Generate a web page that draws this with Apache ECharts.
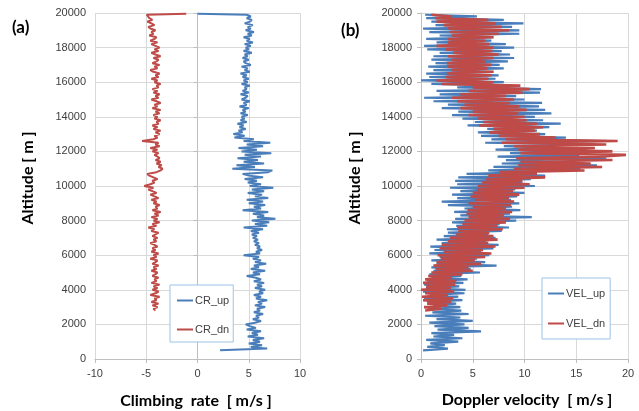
<!DOCTYPE html>
<html><head><meta charset="utf-8">
<script src="https://cdn.jsdelivr.net/npm/echarts@6/dist/echarts.min.js"></script>
<style>html,body{margin:0;padding:0;background:#fff}#c{width:639px;height:411px}</style>
</head><body><div id="c"></div>
<script>
// ---- sampling altitudes (m) ----
function range(a, b, s) { var r = []; for (var v = a; v <= b + 1e-9; v += s) r.push(v); return r; }
const altUp = range(500, 19900, 100);     // ascent samples
const altDn = range(2800, 19900, 100);    // descent samples
const topUpAlt = 19950, topUpVal = 0;     // CR_up last point
const topDnAlt = 19950, topDnVal = -1.1;  // CR_dn last point

// ---- (a) Climbing rate [m/s] ----
const crUp = [
 2.2,6.8,5.2,6.3,5.0,6.1,5.4,6.5,4.9,5.9,5.3,6.2,4.8,5.7,5.1,4.7,
 5.6,6.2,5.4,6.0,5.7,6.4,5.5,6.1,5.8,6.6,5.6,6.3,5.9,6.8,5.7,6.2,5.5,6.4,6.0,6.6,5.6,6.3,5.8,6.5,5.5,6.2,
 5.7,4.8,6.1,5.4,6.6,5.2,6.0,5.5,6.7,5.6,
 6.2,5.4,6.0,4.5,6.1,5.7,
 6.3,5.8,6.1,5.6,6.0,5.5,5.9,5.4,5.8,5.3,
 6.0,5.2,6.4,4.5,6.8,5.6,7.0,5.3,7.6,5.8,6.5,5.4,6.9,4.4,6.2,5.5,
 6.6,5.0,6.4,4.8,6.9,5.6,6.3,4.9,6.5,5.3,7.4,5.1,
 6.2,4.9,5.8,4.6,6.4,5.0,4.4,6.9,7.3,3.4,5.6,3.8,6.5,4.5,5.9,3.9,6.2,4.6,7.2,4.3,5.8,4.0,6.4,4.8,7.1,4.5,5.5,3.6,
 4.6,3.5,4.4,4.0,4.7,4.1,4.5,3.9,4.8,4.2,4.6,4.3,
 4.9,4.2,4.7,4.4,5.0,4.1,4.8,4.5,5.1,4.3,4.7,4.9,4.2,5.0,4.4,4.8,4.6,5.1,4.3,4.9,
 4.5,5.0,4.4,4.8,4.2,5.1,4.6,4.9,4.3,5.2,4.7,4.5,5.0,4.4,4.9,4.6,5.3,4.5,5.0,4.7,
 5.2,4.6,5.4,4.8,5.1,4.5,5.3,4.9,5.5,4.7,5.2,4.9,5.4,4.6,5.1,5.3,4.8,5.2,4.8
];
const crDn = [
 -4.1,-4.3,-3.9,-4.4,-3.8,-4.5,-4.0,-4.2,-3.7,-4.6,
 -4.1,-3.8,-4.4,-3.9,-4.3,-3.7,-4.5,-4.0,-4.2,-3.8,
 -4.4,-4.1,-3.9,-4.5,-4.0,-4.3,-3.8,-4.4,-4.1,-3.9,
 -4.6,-4.0,-4.3,-3.8,-4.5,-4.1,-4.4,-3.9,-4.2,-4.6,
 -4.0,-4.3,-3.9,-4.4,-4.1,-3.8,-4.5,-4.2,
 -4.8,-4.0,-4.4,-3.7,-4.3,-3.9,-4.5,-3.8,-4.2,-3.6,-4.4,-3.9,-4.1,-3.7,-4.3,-4.0,-4.5,-3.8,-4.2,-4.6,-4.0,-4.4,-4.8,-4.3,-5.2,
 -4.6,-4.2,-4.4,-3.9,-4.3,-4.7,-4.9,-4.0,-3.6,-3.4,-3.8,-3.5,-4.0,-3.6,-4.1,-3.7,-3.9,-4.2,-3.8,-4.4,-3.9,-4.6,-3.7,-4.1,-3.8,
 -5.4,-4.3,
 -3.9,-4.2,-3.7,-4.1,-3.6,-4.3,-3.9,-4.4,-3.8,-4.0,-3.6,-4.2,-3.9,
 -4.3,-3.7,-4.1,-3.6,-4.4,-3.9,-4.2,-3.6,-4.0,-4.5,-3.8,-4.1,-3.7,-4.3,-3.9,-4.4,-3.8,-4.0,-3.6,-4.2,
 -3.9,-4.5,-3.8,-4.1,-3.7,-4.3,-4.6,-3.9,-4.2,-3.7,-4.4,-4.0,-3.8,-4.3,-3.6,-4.1,-4.5,-3.8,-4.2,-3.7,
 -4.1,-4.5,-3.9,-4.6,-4.2,-4.0,-4.7,-4.3,-4.5,-4.1,-4.6,-4.8,-4.2,-4.5,-4.9,-4.4,-4.7,-4.8,-4.95
];

// ---- (b) Doppler velocity [m/s] ----
const velUp = [
 0.2,2.6,0.6,2.3,0.9,
 3.6,0.5,4.0,1.2,3.2,  1.0,5.8,1.6,4.6,1.3,  4.2,0.8,5.0,1.5,3.8,  0.4,4.6,1.1,3.9,0.7,
 3.8,1.2,3.4,0.6,4.0,  0.3,3.6,0.9,4.2,0.2,  4.3,0.5,3.7,0.3,4.1,  0.6,4.5,1.0,3.9,0.8,
 5.7,1.2,4.8,1.0,7.3,  1.5,6.2,1.0,5.4,1.8,  6.6,0.8,5.8,1.3,7.0,  0.9,7.5,2.0,6.3,1.5,
 7.2,2.2,6.5,2.6,7.8,  2.5,8.5,3.4,7.6,3.0,  9.2,3.3,10.7,3.8,8.6, 3.2,9.6,4.2,8.8,2.6,
 9.5,2.0,8.7,3.5,9.3,  3.0,10.0,3.8,9.1,2.8, 11.0,3.5,9.8,3.3,10.6, 3.6,12.0,4.4,11.2,6.5,
 15.4,7.0,17.0,7.8,14.6, 8.2,17.9,7.4,15.3,8.6, 16.0,7.2,13.5,8.0,15.2, 6.2,18.0,6.8,14.0,5.8,
 12.0,5.5,11.2,6.4,12.4, 4.5,13.5,5.2,11.8,4.0, 11.0,3.0,12.6,3.6,12.0, 2.0,11.4,2.6,11.7,1.2,
 10.0,0.3,9.2,1.8,11.5, 1.5,11.6,3.5,8.8,1.0, 8.0,0.0,7.2,0.8,7.5, 0.5,7.0,1.2,8.0,0.7,
 7.6,1.4,8.4,1.0,9.0,  1.2,8.6,1.8,7.8,0.6,  9.0,0.3,8.2,1.5,6.8,  0.5,7.0,1.8,9.5,0.8,
 9.5,0.2,8.8,1.4,9.9,  1.0,8.0,0.5,5.4,0.4
];
const velDn = [
 0.4,2.0,
 0.3,2.5,0.6,2.9,0.2,  3.1,0.1,2.6,0.4,3.2,  0.0,2.9,0.5,3.3,0.2,  3.4,0.4,3.0,0.7,4.0,
 1.0,5.0,1.4,4.6,1.2,  5.8,1.5,5.2,1.9,6.2,  1.6,6.8,2.2,6.0,1.8,  7.2,2.0,6.5,2.6,7.4,
 2.8,7.0,3.4,6.6,3.6,  7.9,3.5,7.4,4.0,8.2,  4.2,8.6,4.6,8.0,4.4,  8.8,4.5,8.2,5.0,8.7,
 4.6,9.0,5.2,8.5,4.8,  9.5,5.0,8.9,5.4,10.0, 5.5,10.5,5.9,9.8,6.3, 12.0,6.5,11.2,7.6,15.8,
 9.0,17.5,9.4,16.4,9.6, 18.5,9.2,17.2,19.8,9.6, 18.5,9.4,16.8,9.0,17.9, 7.8,19.0,8.2,13.0,7.5,
 11.5,6.6,11.0,7.0,11.8, 5.6,11.2,6.0,10.2,5.5, 10.0,4.6,9.4,5.0,10.2, 3.8,9.5,4.2,8.6,3.5,
 9.0,3.0,8.2,3.8,9.8,  4.6,10.5,5.0,9.6,2.0, 7.0,1.5,6.5,2.4,6.8,  2.5,7.0,3.0,6.4,2.6,
 6.8,2.5,6.2,3.0,7.0,  2.6,7.5,3.1,6.9,2.4,  7.0,1.5,6.6,2.6,6.2,  2.6,7.0,3.0,7.5,2.8,
 8.5,2.6,7.8,2.2,7.2,  1.5,6.5,1.4,3.0,1.0
];

const xTicksA = { min: -10, max: 10, interval: 5 };
const xTicksB = { min: 0, max: 20, interval: 5 };
const yTicks = { min: 0, max: 20000, interval: 2000 };

function pairs(vals, alts) { return vals.map(function (v, i) { return [v, alts[i]]; }); }

const BLUE = '#4a7ebb', RED = '#be4b48';
const labelStyle = { color: '#404040', fontSize: 11, fontFamily: 'Liberation Sans' };
function xAx(t, idx) {
  return { gridIndex: idx, type: 'value', min: t.min, max: t.max, interval: t.interval,
    axisLine: { show: true, lineStyle: { color: '#bfbfbf' } },
    axisTick: { show: true, length: 4, lineStyle: { color: '#bfbfbf' } },
    axisLabel: Object.assign({ margin: 9, formatter: function (v) { return String(v); } }, labelStyle),
    splitLine: { show: true, lineStyle: { color: '#d9d9d9' } } };
}
function yAx(idx) {
  return { gridIndex: idx, type: 'value', min: yTicks.min, max: yTicks.max, interval: yTicks.interval,
    axisLine: { show: true, lineStyle: { color: '#bfbfbf' } },
    axisTick: { show: true, length: 4, lineStyle: { color: '#bfbfbf' } },
    axisLabel: Object.assign({ margin: 9, formatter: function (v) { return String(v); } }, labelStyle),
    splitLine: { show: true, lineStyle: { color: '#d9d9d9' } } };
}
function line(name, data, color, idx, w) {
  return { name: name, type: 'line', xAxisIndex: idx, yAxisIndex: idx, data: data,
    showSymbol: false, symbol: 'none', lineStyle: { color: color, width: w }, itemStyle: { color: color } };
}
const legendBase = { orient: 'vertical', backgroundColor: '#fff', borderColor: '#9dc3e6', borderWidth: 1,
  itemWidth: 16, itemHeight: 2, icon: 'rect',
  textStyle: { color: '#404040', fontSize: 11, fontFamily: 'Liberation Sans', padding: [0, 0, 0, -3] } };
const titleFont = { fontFamily: 'Lato', fontWeight: 'bold', fontSize: 16, fill: '#000' };

const chart = echarts.init(document.getElementById('c'), null, { renderer: 'canvas' });
chart.setOption({
  animation: false,
  grid: [
    { left: 95, right: 339, top: 13, bottom: 52 },
    { left: 421, right: 11, top: 13, bottom: 52 }
  ],
  xAxis: [xAx(xTicksA, 0), xAx(xTicksB, 1)],
  yAxis: [yAx(0), yAx(1)],
  legend: [
    Object.assign({ data: ['CR_up', 'CR_dn'], left: 170, top: 285, padding: [10, 4, 7, 7], itemGap: 18 }, legendBase),
    Object.assign({ data: ['VEL_up', 'VEL_dn'], left: 542, top: 278, padding: [10, 5, 10, 6], itemGap: 19 }, legendBase)
  ],
  series: [
    line('CR_up', pairs(crUp, altUp).concat([[topUpVal, topUpAlt]]), BLUE, 0, 2),
    line('CR_dn', pairs(crDn, altDn).concat([[topDnVal, topDnAlt]]), RED, 0, 2),
    line('VEL_up', pairs(velUp, altUp), BLUE, 1, 2.2),
    line('VEL_dn', pairs(velDn, altDn), RED, 1, 2.6)
  ],
  graphic: [
    { type: 'text', left: 12, top: 19, style: Object.assign({ text: '(a)', fontSize: 17 }, { fontFamily: 'Lato', fontWeight: 'bold', fill: '#000' }) },
    { type: 'text', left: 341, top: 22, style: Object.assign({ text: '(b)', fontSize: 17 }, { fontFamily: 'Lato', fontWeight: 'bold', fill: '#000' }) },
    { type: 'text', x: 28, y: 178, rotation: Math.PI / 2, style: Object.assign({ text: 'Altitude [ m ]', align: 'center', verticalAlign: 'middle' }, titleFont) },
    { type: 'text', x: 355, y: 178, rotation: Math.PI / 2, style: Object.assign({ text: 'Altitude [ m ]', align: 'center', verticalAlign: 'middle' }, titleFont) },
    { type: 'text', x: 196, y: 401, style: Object.assign({ text: 'Climbing  rate  [ m/s ]', align: 'center', verticalAlign: 'middle' }, titleFont) },
    { type: 'text', x: 527, y: 400, style: Object.assign({ text: 'Doppler velocity  [ m/s ]', align: 'center', verticalAlign: 'middle' }, titleFont) }
  ]
});
</script></body></html>
